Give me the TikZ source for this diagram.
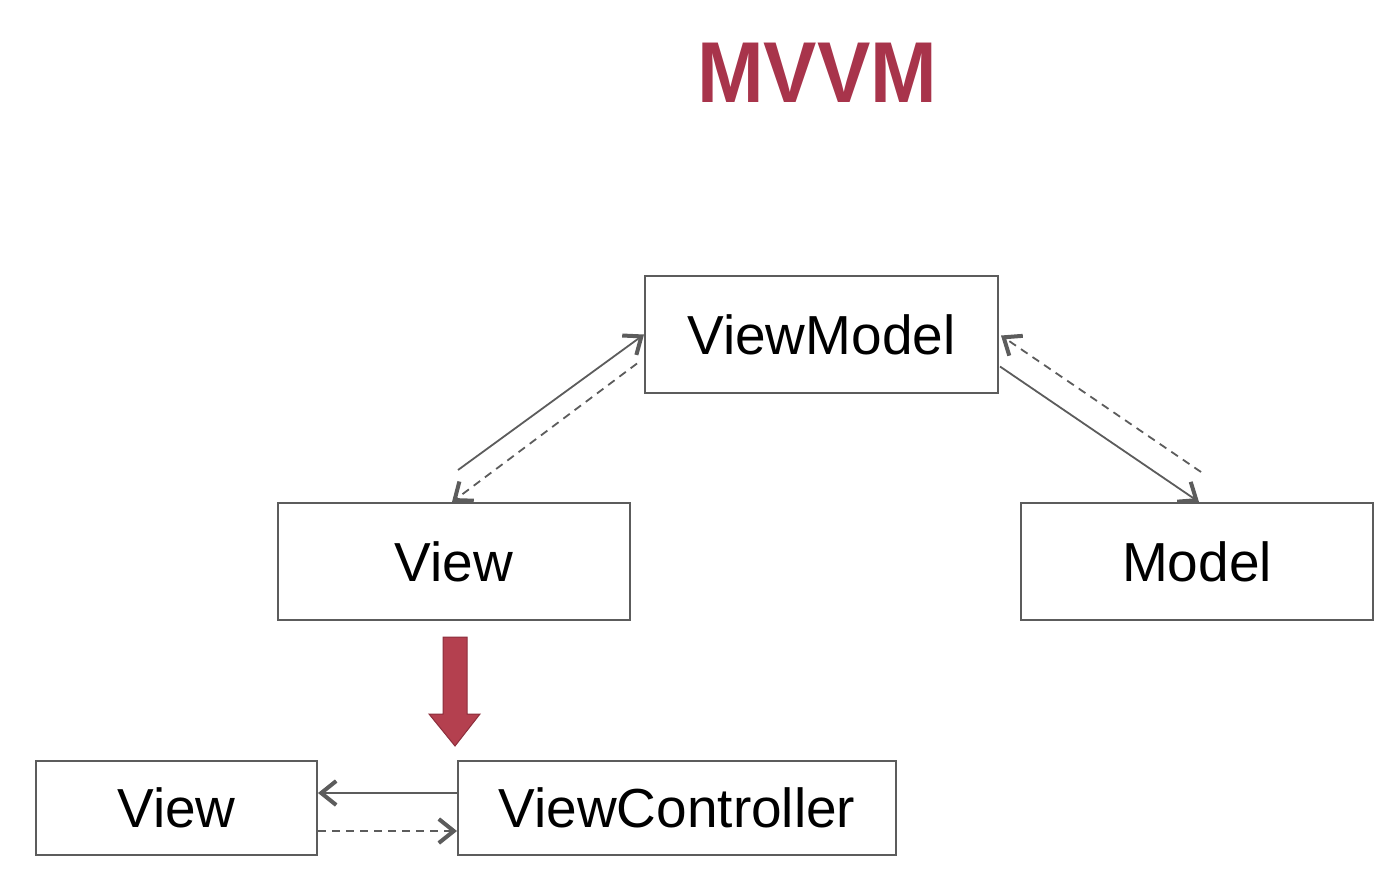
\documentclass[tikz,border=0pt]{standalone}
\usepackage{fontspec}
\setmainfont{Liberation Sans}
\usetikzlibrary{arrows.meta,calc}
\definecolor{titlered}{HTML}{A8344B}
\definecolor{arrowred}{HTML}{B4404F}
\definecolor{arrowedge}{HTML}{8C2E3C}
\definecolor{linegray}{HTML}{5C5C5C}
\tikzset{
  box/.style={draw=linegray, line width=1pt, fill=white, inner sep=0pt,
              font=\fontsize{27.5}{30}\selectfont},
  tip/.style={-{Straight Barb[length=7.5pt,width=12pt,line width=2pt]}},
  link/.style={tip, draw=linegray, line width=0.9pt},
  dlink/.style={link, dash pattern=on 4pt off 3pt},
}
\begin{document}
\begin{tikzpicture}[x=0.5pt,y=-0.5pt]
\useasboundingbox (0,0) rectangle (1392,872);

% title
\node[text=titlered, font=\fontsize{40}{40}\selectfont\bfseries] (title) at (817,73) {\scalebox{1}[1.08]{MVVM}};

% MVVM boxes (sizes in pt: one unit is half a point)
\node[box, minimum width=176.5pt, minimum height=58.5pt] (vm) at (821.5,334.5) {ViewModel};
\node[box, minimum width=176pt, minimum height=58.5pt] (view) at (454,561.5) {View};
\node[box, minimum width=176pt, minimum height=58.5pt] (model) at (1197,561.5) {Model};

% view / view controller pair
\node[box, minimum width=140.5pt, minimum height=47pt] (bview) at (176.5,808) {View};
\node[box, minimum width=219pt, minimum height=47pt] (vc) at (677,808) {ViewController};

% view <-> viewmodel
\coordinate (vfree) at ($(view.north)+(4,-32)$);
\draw[link] (vfree) -- (vm.west);
\draw[dlink] ($(vm.west)+(-7,29)$) -- ($(view.north)+(-2,0)$);

% viewmodel <-> model
\coordinate (mfree) at ($(model.north)+(4,-30)$);
\draw[link] ($(vm.east)+(1,32)$) -- ($(model.north)+(2,0)$);
\draw[dlink] (mfree) -- ($(vm.east)+(2,1)$);

% view controller <-> view
\draw[link] ($(vc.west)+(0,-15)$) -- ($(bview.east)+(0,-15)$);
\draw[dlink] ($(bview.east)+(0,23)$) -- ($(vc.west)+(0,23)$);

% block arrow between the two layers
\fill[arrowred, draw=arrowedge, line width=0.5pt]
  ($(view.south)+(-11,16)$) -- ($(view.south)+(13,16)$) --
  ($(view.south)+(13,93)$) -- ($(view.south)+(26,93)$) --
  ($(view.south)+(1,125)$) -- ($(view.south)+(-25,93)$) --
  ($(view.south)+(-11,93)$) -- cycle;
\end{tikzpicture}
\end{document}
